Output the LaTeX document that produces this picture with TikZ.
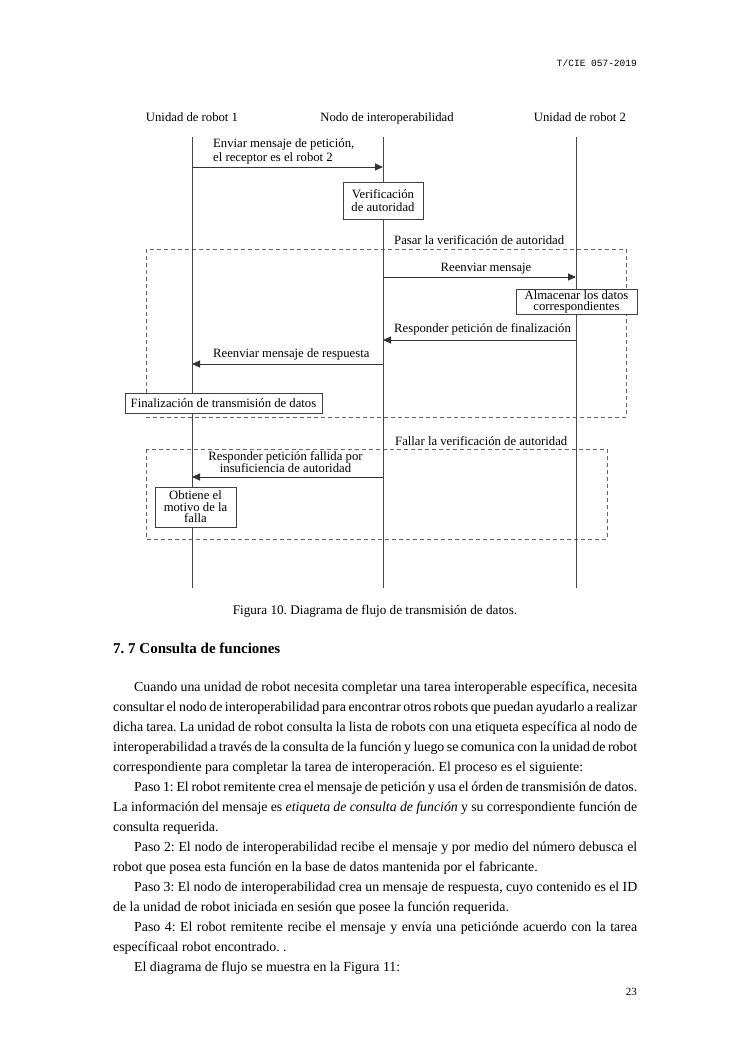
\documentclass[tikz,border=0pt]{standalone}
\usepackage{fontspec}
\setmainfont{Liberation Serif}
\setmonofont{Liberation Mono}
\usetikzlibrary{arrows.meta}
\newcommand\jl[1]{\makebox[524pt][s]{#1}}
\newcommand\jf[1]{\hspace*{21pt}\makebox[503pt][s]{#1}}
\newcommand\pind{\hspace*{21pt}}
\begin{document}
\frenchspacing
\begin{tikzpicture}[x=1pt,y=-1pt,
  lbl/.style={font=\fontsize{12.7}{14}\selectfont, inner sep=0pt},
  life/.style={draw=black!72, line width=1pt},
  msg/.style={draw=black!80, line width=0.9pt, -{Triangle[length=8pt,width=7pt]}},
  actbox/.style={draw=black!75, line width=0.8pt, fill=white, align=center, inner sep=0pt},
  frame/.style={draw=black!60, line width=0.8pt, dash pattern=on 4pt off 3pt}]
\useasboundingbox (0,0) rectangle (750,1060);
% header
\node[font=\ttfamily\fontsize{9.5}{11}\selectfont, anchor=base east, inner sep=0pt] (hdr) at (637,66) {T/CIE 057-2019};
% lifeline heads
\node[lbl, anchor=base] (h1) at (192,121.5) {Unidad de robot 1};
\node[lbl, anchor=base] (h2) at (387,121.5) {Nodo de interoperabilidad};
\node[lbl, anchor=base] (h3) at (580,121.5) {Unidad de robot 2};
% lifelines
\coordinate (l1t) at (192,137); \coordinate (l1b) at (192,588);
\coordinate (l2t) at (383,137); \coordinate (l2b) at (383,588);
\coordinate (l3t) at (576,137); \coordinate (l3b) at (576,588);
% frames
\draw[frame] (146,249) rectangle (626,417);
\draw[frame] (146,449) rectangle (607,539);
\draw[life] (l1t) -- (l1b);
\draw[life] (l2t) -- (l2b);
\draw[life] (l3t) -- (l3b);
% message 1
\coordinate (m1s) at (192,167); \coordinate (m1e) at (383,167);
\draw[msg] (m1s) -- (m1e);
\node[lbl, anchor=west, align=left, font=\fontsize{12.7}{14}\selectfont] (t1) at (213,151) {Enviar mensaje de petición,\\el receptor es el robot 2};
% verification box
\node[actbox, minimum width=80pt, minimum height=37pt, font=\fontsize{12.7}{13}\selectfont] (ver) at (383,200.5) {Verificación\\de autoridad};
% pass frame
\node[lbl, anchor=base west] (pass) at (394,244.5) {Pasar la verificación de autoridad};
\coordinate (m2s) at (383,277); \coordinate (m2e) at (576,277);
\draw[msg] (m2s) -- (m2e);
\node[lbl, anchor=base] (t2) at (486,271.5) {Reenviar mensaje};
\node[actbox, minimum width=121pt, minimum height=25pt, font=\fontsize{12.7}{11}\selectfont] (alm) at (576.5,301.5) {Almacenar los datos\\correspondientes};
\coordinate (m3s) at (576,340); \coordinate (m3e) at (383,340);
\draw[msg] (m3s) -- (m3e);
\node[lbl, anchor=base west] (t3) at (394,332.5) {Responder petición de finalización};
\coordinate (m4s) at (383,364); \coordinate (m4e) at (192,364);
\draw[msg] (m4s) -- (m4e);
\node[lbl, anchor=base west] (t4) at (213,357.5) {Reenviar mensaje de respuesta};
\node[actbox, minimum width=197pt, minimum height=20pt, font=\fontsize{12.7}{14}\selectfont] (fin) at (223.5,403) {Finalización de transmisión de datos};
% fail frame
\node[lbl, anchor=base west] (fail) at (395,445.5) {Fallar la verificación de autoridad};
\coordinate (m5s) at (383,477); \coordinate (m5e) at (192,477);
\draw[msg] (m5s) -- (m5e);
\node[lbl, align=center, font=\fontsize{12.7}{9}\selectfont] (t5) at (285.5,462) {Responder petición fallida por\\insuficiencia de autoridad};
\node[actbox, minimum width=81pt, minimum height=40pt, font=\fontsize{12.7}{11.5}\selectfont] (obt) at (195.5,507) {Obtiene el\\motivo de la\\falla};
% caption
\node[anchor=base, inner sep=0pt, font=\fontsize{13.2}{15}\selectfont] (cap) at (375,614.5) {Figura 10. Diagrama de flujo de transmisión de datos.};
% heading
\node[anchor=base west, inner sep=0pt, font=\bfseries\fontsize{15}{18}\selectfont] (sec) at (113,653.5) {7. 7 Consulta de funciones};
% body
\node[anchor=north west, inner sep=0pt, align=left, font=\fontsize{13.85}{20}\selectfont] (body) at (113,677) {%
\strut\jf{Cuando una unidad de robot necesita completar una tarea interoperable específica, necesita}\\
\jl{consultar el nodo de interoperabilidad para encontrar otros robots que puedan ayudarlo a realizar}\\
\jl{dicha tarea. La unidad de robot consulta la lista de robots con una etiqueta específica al nodo de}\\
\jl{interoperabilidad a través de la consulta de la función y luego se comunica con la unidad de robot}\\
correspondiente para completar la tarea de interoperación. El proceso es el siguiente:\\
\jf{Paso 1: El robot remitente crea el mensaje de petición y usa el órden de transmisión de datos.}\\
\jl{La información del mensaje es \textit{etiqueta de consulta de función} y su correspondiente función de}\\
consulta requerida.\\
\jf{Paso 2: El nodo de interoperabilidad recibe el mensaje y por medio del número debusca el}\\
robot que posea esta función en la base de datos mantenida por el fabricante.\\
\jf{Paso 3: El nodo de interoperabilidad crea un mensaje de respuesta, cuyo contenido es el ID}\\
de la unidad de robot iniciada en sesión que posee la función requerida.\\
\jf{Paso 4: El robot remitente recibe el mensaje y envía una peticiónde acuerdo con la tarea}\\
específicaal robot encontrado. .\\
\pind El diagrama de flujo se muestra en la Figura 11:};
% page number
\node[anchor=base east, inner sep=0pt, font=\fontsize{11}{13}\selectfont] (pg) at (637,995) {23};
\end{tikzpicture}
\end{document}
